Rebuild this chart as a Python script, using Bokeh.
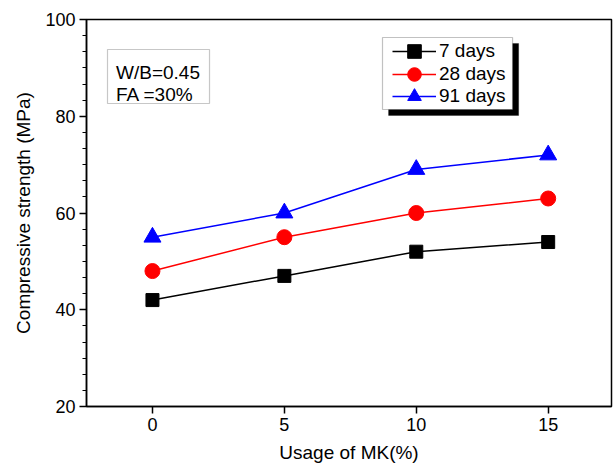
from bokeh.plotting import figure
from bokeh.models import Range1d, FixedTicker, Legend, LegendItem, BoxAnnotation, Label
from bokeh.embed import file_html
from bokeh.resources import INLINE

# ---- data ----
mk_usage = [0, 5, 10, 15]
days7 = [42, 47, 52, 54]
days28 = [48, 55, 60, 63]
days91 = [55, 60, 69, 72]
series_names = ["7 days", "28 days", "91 days"]
x_ticks = [0, 5, 10, 15]
y_ticks = [20, 40, 60, 80, 100]
note_lines = ["W/B=0.45", "FA =30%"]

FONT = "Liberation Sans"

p = figure(width=613, height=473, output_backend="svg", toolbar_location=None,
           x_range=Range1d(-2.5, 17.4), y_range=Range1d(20, 100),
           min_border_left=86, min_border_right=2, min_border_top=19, min_border_bottom=67)
p.background_fill_color = "white"
p.border_fill_color = "white"
p.outline_line_color = "black"
p.outline_line_width = 1.5
p.xgrid.visible = False
p.ygrid.visible = False

# axes
p.xaxis.ticker = FixedTicker(ticks=x_ticks)
p.yaxis.ticker = FixedTicker(ticks=y_ticks,
                             minor_ticks=[y_ticks[0] + i * 20 / 6 for i in range(0, 25)])
for ax in (p.xaxis[0], p.yaxis[0]):
    ax.axis_line_color = "black"
    ax.axis_line_width = 1.5
    ax.major_tick_line_color = "black"
    ax.major_tick_line_width = 1.5
    ax.major_tick_in = 0
    ax.major_tick_out = 7
    ax.major_label_text_font = FONT
    ax.major_label_text_font_size = "18px"
    ax.major_label_text_color = "black"
    ax.axis_label_text_font = FONT
    ax.axis_label_text_font_size = "19px"
    ax.axis_label_text_font_style = "normal"
    ax.axis_label_text_color = "black"
p.xaxis.minor_tick_line_color = None
p.yaxis.minor_tick_line_color = "black"
p.yaxis.minor_tick_line_width = 1.2
p.yaxis.minor_tick_in = 0
p.yaxis.minor_tick_out = 4
p.xaxis.major_label_standoff = 4
p.yaxis.major_label_standoff = 4
p.xaxis.axis_label_standoff = 8
p.yaxis.axis_label_standoff = 8
p.xaxis.axis_label = "Usage of MK(%)"
p.yaxis.axis_label = "Compressive strength (MPa)"

# series
l1 = p.line(mk_usage, days7, line_color="black", line_width=1.5)
m1 = p.scatter(mk_usage, days7, marker="square", size=13, fill_color="black", line_color="black")
l2 = p.line(mk_usage, days28, line_color="#ff0000", line_width=1.5)
m2 = p.scatter(mk_usage, days28, marker="circle", size=15, fill_color="#ff0000", line_color="#ff0000")
l3 = p.line(mk_usage, days91, line_color="#0000ff", line_width=1.5)
m3 = p.scatter(mk_usage, days91, marker="triangle", size=17, fill_color="#0000ff", line_color="#0000ff")

# note box
note_box = BoxAnnotation(left=-1.704, right=2.163, top=93.8, bottom=82.64,
                         fill_color="white", fill_alpha=1.0,
                         line_color="#444444", line_width=1.2)
p.add_layout(note_box)
for txt, yb in zip(note_lines, [89.1, 84.45]):
    p.add_layout(Label(x=-1.38, y=yb, text=txt, text_font=FONT, text_font_size="19px",
                       text_color="black", text_baseline="alphabetic", text_align="left"))

# legend shadow and frame
shadow = BoxAnnotation(left=8.95, right=13.88, top=95.04, bottom=80.16,
                       fill_color="black", fill_alpha=1.0, line_color="black")
p.add_layout(shadow)
legend_frame = BoxAnnotation(left=8.72, right=13.65, top=96.28, bottom=81.40,
                             fill_color="white", fill_alpha=1.0,
                             line_color="#333333", line_width=1.2)
p.add_layout(legend_frame)

# one legend per row so rows can be packed tightly with large markers
row_y = [338, 315, 293]
for name, rends, ly in zip(series_names, [[l1, m1], [l2, m2], [l3, m3]], row_y):
    lg = Legend(items=[LegendItem(label=name, renderers=rends)],
                location=(306, ly), orientation="vertical",
                border_line_color=None, background_fill_alpha=0.0,
                label_text_font=FONT, label_text_font_size="19px", label_text_color="black",
                glyph_width=44, glyph_height=34, label_height=34, label_standoff=3,
                spacing=0, padding=0, margin=0)
    p.add_layout(lg)

open("out.html", "w").write(file_html(p, INLINE))
